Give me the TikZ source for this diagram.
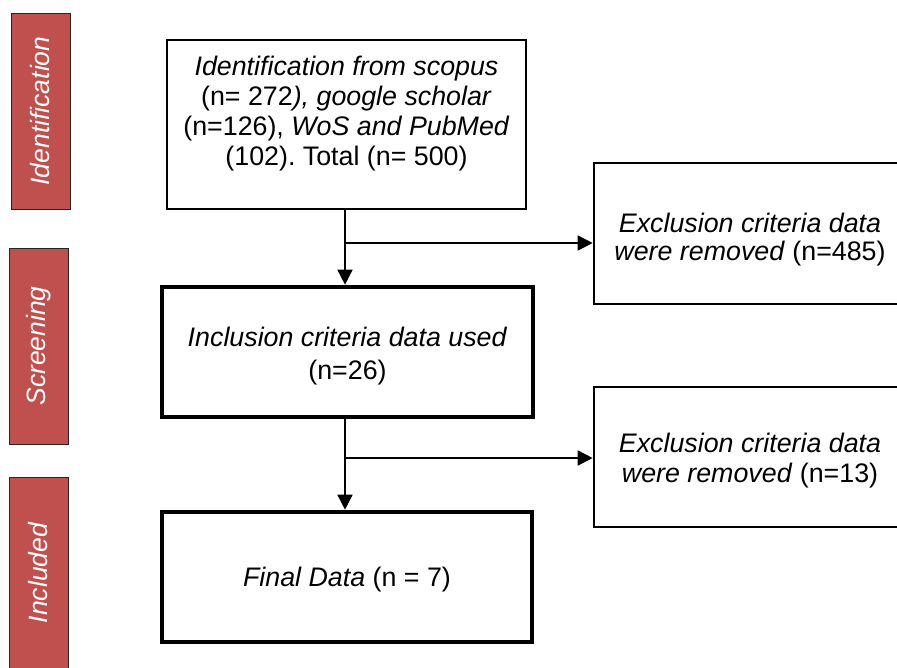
\documentclass[tikz,border=0pt]{standalone}
\usepackage{fontspec}
\setmainfont{Liberation Sans}
\frenchspacing
\usetikzlibrary{arrows.meta}
\definecolor{phasered}{HTML}{C0504D}
\tikzset{
  phase/.style={draw=black!85, line width=0.9pt, fill=phasered},
  phasetext/.style={rotate=90, text=white, font=\fontsize{26.5}{30}\selectfont\itshape},
  plainbox/.style={draw, line width=2.6pt, inner sep=0pt},
  heavybox/.style={draw, line width=4.6pt, inner sep=0pt},
  boxtext/.style={align=center, font=\fontsize{26.8}{30}\selectfont},
  flow/.style={line width=1.5pt, -{Triangle[length=15pt,width=15pt]}},
}
\begin{document}
\begin{tikzpicture}[x=1pt,y=-1pt]
\useasboundingbox (0,0) rectangle (897,667);
\begin{scope}
\clip (0,0) rectangle (897,667);

% phase bars
\draw[phase] (11,13) rectangle (70,209);
\node[phasetext] (pid) at (40.5,111) {Identification};
\draw[phase] (9,248) rectangle (68,444);
\node[phasetext] (psc) at (38.5,346) {Screening};
\draw[phase] (9,477) rectangle (68,700);
\node[phasetext] (pin) at (38.5,573) {Included};

% flow boxes
\node[plainbox, minimum width=359pt, minimum height=169pt] (ident) at (346.5,124.5) {};
\node[boxtext] (identtxt) at (346.5,114) {\textit{Identification from scopus}\\
  (n= 272\textit{), google scholar}\\
  (n=126), \textit{WoS and PubMed}\\
  (102). Total (n= 500)};

\node[plainbox, minimum width=312pt, minimum height=141pt] (excl1) at (750,233.5) {};
\node[boxtext, font=\fontsize{26.8}{28.5}\selectfont] (excl1txt) at (750,239.5) {\textit{Exclusion criteria data}\\
  \textit{were removed} (n=485)};

\node[heavybox, minimum width=371pt, minimum height=130pt] (incl) at (347.5,352) {};
\node[boxtext, font=\fontsize{26.8}{33}\selectfont] (incltxt) at (347.5,356) {\textit{Inclusion criteria data used}\\
  (n=26)};

\node[plainbox, minimum width=312pt, minimum height=140pt] (excl2) at (750,457) {};
\node[boxtext] (excl2txt) at (750,460.5) {\textit{Exclusion criteria data}\\
  \textit{were removed} (n=13)};

\node[heavybox, minimum width=370pt, minimum height=130pt] (final) at (347,577) {};
\node[boxtext] (finaltxt) at (347,580) {\textit{Final Data} (n = 7)};

% connectors
\coordinate (b1) at (345,243);
\coordinate (b2) at (345,458);
\draw[flow] (ident.south -| b1) -- (incl.north -| b1);
\draw[flow] (b1) -- (b1 -| excl1.west);
\draw[flow] (incl.south -| b2) -- (final.north -| b2);
\draw[flow] (b2) -- (b2 -| excl2.west);
\end{scope}
\end{tikzpicture}
\end{document}
